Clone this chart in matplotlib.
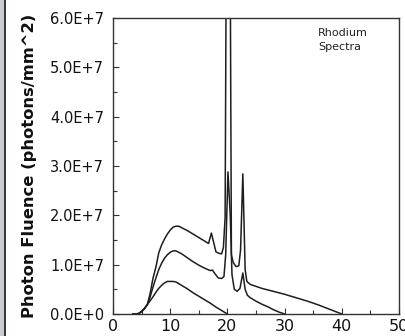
import matplotlib
matplotlib.use("Agg")
import matplotlib.pyplot as plt
from matplotlib.patches import Rectangle
from matplotlib.ticker import MultipleLocator, FuncFormatter
import numpy as np

# Rhodium-anode spectra at three tube voltages (energy in keV, fluence in photons/mm^2)
energy_40 = [3.5, 4, 4.5, 5, 5.5, 6, 6.5, 7, 7.5, 8, 8.5, 9, 9.5, 10, 10.5, 11, 11.5, 12,
             13, 14, 15, 16, 16.7, 17.2, 17.6, 18, 18.5, 19, 19.3, 19.6, 19.9, 20.5, 20.7,
             21, 21.5, 22, 22.3, 22.7, 23.1, 23.4, 24, 26, 28, 30, 32, 34, 36, 38, 40]
fluence_40 = [0, 0, 0.1, 0.5, 1.1, 1.9, 4.2, 7.3, 9.5, 12.4, 14.0, 15.2, 16.2, 17.0, 17.6,
              17.8, 17.8, 17.5, 16.9, 16.2, 15.5, 14.8, 14.3, 16.4, 14.5, 12.6, 12.3, 12.2,
              13.5, 19.5, 100.0, 70.0, 12.0, 10.5, 9.6, 9.8, 13.0, 28.4, 9.0, 6.6, 6.0, 5.2,
              4.6, 4.0, 3.3, 2.6, 1.8, 0.9, 0]

energy_30 = [3.5, 4, 4.5, 5, 5.5, 6, 6.5, 7, 7.5, 8, 8.5, 9, 9.5, 10, 10.5, 11, 12, 13, 14,
             15, 16, 17, 17.4, 17.8, 18.4, 19, 19.4, 19.7, 20.1, 20.5, 20.8, 21.2, 21.7,
             22.2, 22.7, 23.1, 23.5, 24, 25, 26, 27, 28, 29, 30]
fluence_30 = [0, 0, 0.1, 0.5, 1.1, 1.9, 3.5, 5.5, 7.3, 9.0, 10.3, 11.3, 12.0, 12.5, 12.8,
              12.8, 12.2, 11.4, 10.6, 9.9, 9.3, 8.8, 8.9, 8.2, 7.3, 7.2, 7.6, 12.0, 28.8,
              20.0, 8.0, 5.0, 4.6, 5.2, 8.3, 5.0, 3.8, 3.3, 2.6, 2.0, 1.5, 0.9, 0.4, 0]

energy_20 = [3.5, 4, 4.5, 5, 5.5, 6, 6.5, 7, 7.5, 8, 8.5, 9, 9.5, 10, 10.5, 11, 12, 13, 14,
             15, 16, 17, 18, 19, 20]
fluence_20 = [0, 0, 0.1, 0.5, 1.1, 1.9, 2.7, 3.5, 4.4, 5.2, 5.8, 6.3, 6.6, 6.6, 6.6, 6.5,
              5.8, 5.1, 4.3, 3.6, 2.9, 2.2, 1.4, 0.7, 0]

x_ticks = [0, 10, 20, 30, 40, 50]
y_ticks = [0, 1e7, 2e7, 3e7, 4e7, 5e7, 6e7]

fig = plt.figure(figsize=(4.05, 3.36), dpi=100)
fig.patch.set_facecolor("white")

# grey strip down the left edge
fig.patches.append(Rectangle((0, 0), 4 / 405, 1, transform=fig.transFigure,
                             facecolor="#c9cdd2", edgecolor="none", zorder=0))
fig.patches.append(Rectangle((4 / 405, 0), 1.5 / 405, 1, transform=fig.transFigure,
                             facecolor="#3a3a3a", edgecolor="none", zorder=0))

ax = fig.add_axes([113 / 405, 22 / 336, 286 / 405, 296 / 336])

line_kw = dict(color="#1e1e1e", lw=1.1)
for e, f in [(energy_20, fluence_20), (energy_30, fluence_30), (energy_40, fluence_40)]:
    ax.plot(e, np.array(f) * 1e6, **line_kw)

ax.set_xlim(0, 50)
ax.set_ylim(0, 6e7)
ax.set_xticks(x_ticks)
ax.set_yticks(y_ticks)
ax.xaxis.set_minor_locator(MultipleLocator(5))
ax.yaxis.set_minor_locator(MultipleLocator(5e6))


def sci_label(v, pos):
    if v == 0:
        return "0.0E+0"
    exp = int(np.floor(np.log10(abs(v))))
    return f"{v / 10**exp:.1f}E+{exp}"


ax.yaxis.set_major_formatter(FuncFormatter(sci_label))

for s in ax.spines.values():
    s.set_color("#333333")
    s.set_linewidth(1.0)

ax.tick_params(axis="both", which="both", direction="in", top=False, right=False,
               color="#333333", width=0.8)
ax.tick_params(axis="both", which="major", length=4)
ax.tick_params(axis="both", which="minor", length=3)
ax.tick_params(axis="y", which="major", labelsize=10.5, pad=6.5)
ax.tick_params(axis="x", which="major", labelsize=11.5, pad=3.5)
for lbl in ax.get_xticklabels() + ax.get_yticklabels():
    lbl.set_color("#111111")

ax.set_ylabel("Photon Fluence (photons/mm^2)", fontsize=11.8, fontweight="bold",
              color="#111111", labelpad=9)

ax.text(35.8, 55.5e6, "Rhodium\nSpectra", fontsize=8, color="#222222",
        linespacing=1.55, va="center", ha="left")

fig.savefig("out.png", dpi=100, facecolor=fig.get_facecolor())
